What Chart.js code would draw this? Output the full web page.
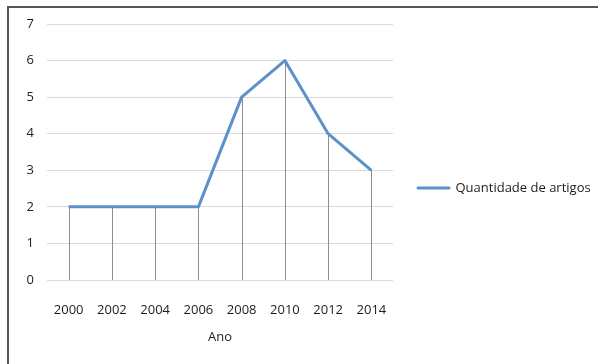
<!DOCTYPE html>
<html>
<head>
<meta charset="utf-8">
<script src="https://cdn.jsdelivr.net/npm/chart.js@4/dist/chart.umd.min.js"></script>
<style>
  html, body { margin: 0; padding: 0; background: #fff; }
  #wrap { position: relative; width: 598px; height: 364px; }
  #frame { position: absolute; left: 7px; top: 6px; right: 0; bottom: 0;
           border-top: 2px solid #555; border-left: 2px solid #555; pointer-events: none; }
</style>
</head>
<body>
<div id="wrap">
  <canvas id="chart" width="598" height="364"></canvas>
  <div id="frame"></div>
</div>
<script>
// Artigos publicados por ano
const anos = ['2000', '2002', '2004', '2006', '2008', '2010', '2012', '2014'];
const quantidade = [2, 2, 2, 2, 5, 6, 4, 3];
const serieNome = 'Quantidade de artigos';
const eixoX = 'Ano';
const yMin = 0;
const yMax = 7;

const fonte = { family: '"Open Sans", "Liberation Sans", sans-serif', size: 13 };
const corLinha = '#5b91c8';
const corTexto = '#1e1e1e';

// Vertical drop lines from every point down to the zero line
const dropLines = {
  id: 'dropLines',
  beforeDatasetsDraw(chart) {
    const { ctx, scales } = chart;
    const x = scales.x, y = scales.y;
    const base = y.getPixelForValue(yMin);
    ctx.save();
    ctx.strokeStyle = '#8f8f8f';
    ctx.lineWidth = 1;
    quantidade.forEach((v, i) => {
      const px = Math.round(x.getPixelForValue(i)) + 0.5;
      ctx.beginPath();
      ctx.moveTo(px, y.getPixelForValue(v));
      ctx.lineTo(px, base);
      ctx.stroke();
    });
    ctx.restore();
  }
};

new Chart(document.getElementById('chart'), {
  type: 'line',
  data: {
    labels: anos,
    datasets: [{
      label: serieNome,
      data: quantidade,
      borderColor: corLinha,
      backgroundColor: corLinha,
      borderWidth: 3,
      pointRadius: 0,
      tension: 0,
      borderJoinStyle: 'round'
    }]
  },
  options: {
    responsive: false,
    animation: false,
    layout: { padding: { left: 8, top: 24, right: 0, bottom: 12 } },
    plugins: {
      legend: {
        position: 'right',
        maxWidth: 205,
        labels: {
          font: fonte,
          color: corTexto,
          boxWidth: 31,
          boxHeight: 0,
          padding: 25
        }
      },
      tooltip: { enabled: false }
    },
    scales: {
      x: {
        offset: true,
        grid: { display: false },
        border: { display: false },
        ticks: { font: fonte, color: corTexto, padding: 14, maxRotation: 0 },
        title: { display: true, text: eixoX, font: fonte, color: corTexto, padding: { top: 4, bottom: 7 } },
        afterFit(scale) { scale.height = 72; }
      },
      y: {
        min: yMin,
        max: yMax,
        grid: { color: '#d9d9d9', drawTicks: false },
        border: { display: false },
        ticks: { stepSize: 1, font: fonte, color: corTexto, padding: 13 },
        afterFit(scale) { scale.width = 39; }
      }
    }
  },
  plugins: [dropLines]
});
</script>
</body>
</html>
